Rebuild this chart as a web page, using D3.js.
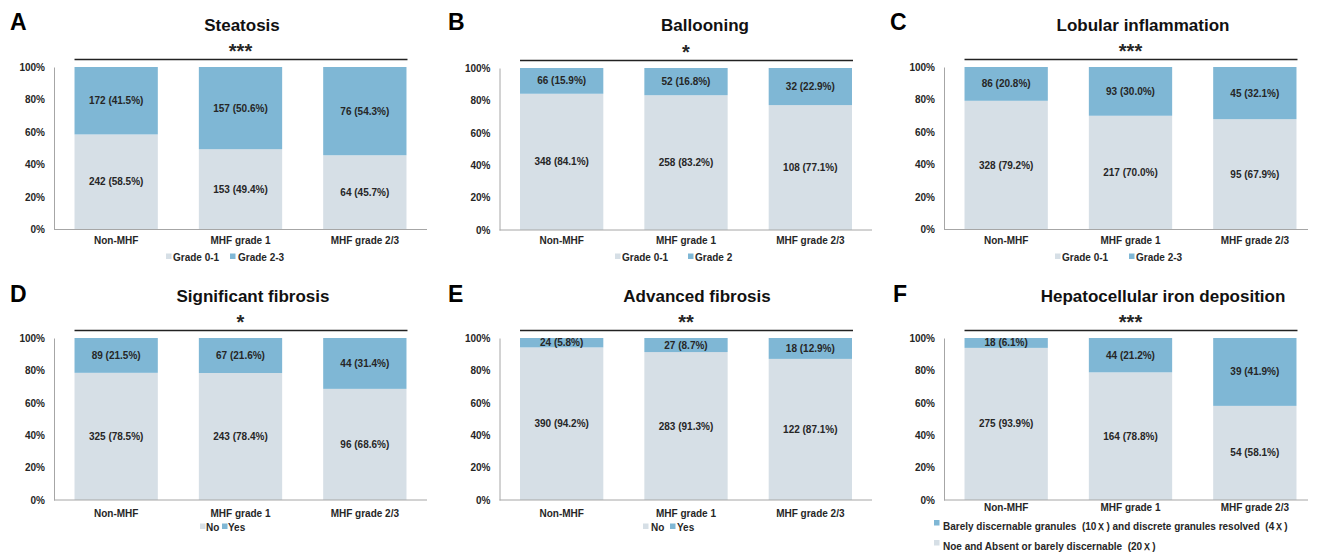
<!DOCTYPE html>
<html><head><meta charset="utf-8">
<script src="https://cdn.jsdelivr.net/npm/d3@7"></script>
<style>
html,body{margin:0;padding:0;background:#fff;}
svg{display:block;font-family:"Liberation Sans",Arial,sans-serif;}
</style></head>
<body>
<svg id="chart" width="1320" height="552"></svg>
<script>
// ---------- data ----------
const categories = ["Non-MHF", "MHF grade 1", "MHF grade 2/3"];
const yTicks = [0, 20, 40, 60, 80, 100];
const panelLetters = ["A", "B", "C", "D", "E", "F"];
const panelTitles = ["Steatosis", "Ballooning", "Lobular inflammation", "Significant fibrosis", "Advanced fibrosis", "Hepatocellular iron deposition"];
const significance = ["***", "*", "***", "*", "**", "***"];

const steatosisN = [[242, 153, 64], [172, 157, 76]];
const steatosisPct = [[58.5, 49.4, 45.7], [41.5, 50.6, 54.3]];
const steatosisLegend = ["Grade 0-1", "Grade 2-3"];

const ballooningN = [[348, 258, 108], [66, 52, 32]];
const ballooningPct = [[84.1, 83.2, 77.1], [15.9, 16.8, 22.9]];
const ballooningLegend = ["Grade 0-1", "Grade 2"];

const lobularN = [[328, 217, 95], [86, 93, 45]];
const lobularPct = [[79.2, 70.0, 67.9], [20.8, 30.0, 32.1]];
const lobularLegend = ["Grade 0-1", "Grade 2-3"];

const sigFibrosisN = [[325, 243, 96], [89, 67, 44]];
const sigFibrosisPct = [[78.5, 78.4, 68.6], [21.5, 21.6, 31.4]];
const sigFibrosisLegend = ["No", "Yes"];

const advFibrosisN = [[390, 283, 122], [24, 27, 18]];
const advFibrosisPct = [[94.2, 91.3, 87.1], [5.8, 8.7, 12.9]];
const advFibrosisLegend = ["No", "Yes"];

const ironN = [[275, 164, 54], [18, 44, 39]];
const ironPct = [[93.9, 78.8, 58.1], [6.1, 21.2, 41.9]];
const ironLegend = ["Noe and Absent or barely discernable  (20\uFF38)", "Barely discernable granules  (10\uFF38) and discrete granules resolved  (4\uFF38)"];

const panelN = [steatosisN, ballooningN, lobularN, sigFibrosisN, advFibrosisN, ironN];
const panelPct = [steatosisPct, ballooningPct, lobularPct, sigFibrosisPct, advFibrosisPct, ironPct];
const panelLegends = [steatosisLegend, ballooningLegend, lobularLegend, sigFibrosisLegend, advFibrosisLegend, ironLegend];

// ---------- layout ----------
const colors = ["#d6dfe6", "#7fb7d5"];
const layout = [
  {ax: 54,    end: 427,  y100: 67,  y0: 229.5, tx: 242,  ty: 31,    lx: 10,  ly: 30,  catY: 244, legY: 261, leg: [[166, 173], [230, 238]]},
  {ax: 499.5, end: 872,  y100: 68,  y0: 230,   tx: 705,  ty: 31,    lx: 448, ly: 30,  catY: 244, legY: 261, leg: [[615, 622], [688, 695]]},
  {ax: 944,   end: 1308, y100: 67,  y0: 229.5, tx: 1143, ty: 31,    lx: 890, ly: 30,  catY: 244, legY: 261, leg: [[1055, 1062], [1129, 1136]]},
  {ax: 54,    end: 427,  y100: 338, y0: 500,   tx: 253,  ty: 302,   lx: 10,  ly: 302, catY: 517, legY: 531, leg: [[200, 206], [222, 228]]},
  {ax: 499.5, end: 872,  y100: 338, y0: 500,   tx: 697,  ty: 302,   lx: 448, ly: 302, catY: 517, legY: 531, leg: [[643, 651], [670, 677]]},
  {ax: 944,   end: 1308, y100: 338, y0: 500,   tx: 1163, ty: 302,   lx: 893, ly: 302, catY: 511, legY: null, leg: null}
];

const svg = d3.select("#chart");
const txt = "#262626";

panelLetters.forEach((letter, p) => {
  const L = layout[p];
  const g = svg.append("g");
  const x = d3.scaleBand().domain(categories).range([L.ax, L.ax + 373]).paddingInner(0.33).paddingOuter(0.165);
  const y = d3.scaleLinear().domain([0, 100]).range([L.y0, L.y100]);

  const rows = categories.map((c, i) => ({cat: c, i: i, s0: panelPct[p][0][i], s1: panelPct[p][1][i]}));
  const stacked = d3.stack().keys(["s0", "s1"])(rows);

  stacked.forEach((layer, k) => {
    g.append("g").selectAll("rect").data(layer).join("rect")
      .attr("x", d => x(d.data.cat))
      .attr("width", x.bandwidth())
      .attr("y", d => y(d[1]))
      .attr("height", d => y(d[0]) - y(d[1]))
      .attr("fill", colors[k]);
    g.append("g").selectAll("text").data(layer).join("text")
      .attr("x", d => x(d.data.cat) + x.bandwidth() / 2)
      .attr("y", d => y((d[0] + d[1]) / 2))
      .attr("dy", "0.35em")
      .attr("text-anchor", "middle")
      .attr("font-size", 10).attr("font-weight", "bold").attr("fill", txt)
      .text(d => `${panelN[p][k][d.data.i]} (${panelPct[p][k][d.data.i].toFixed(1)}%)`);
  });

  // y axis
  const yAxis = d3.axisLeft(y).tickValues(yTicks).tickSize(0).tickPadding(9).tickFormat(d => d + "%");
  const ya = g.append("g").attr("transform", `translate(${L.ax},0)`).call(yAxis);
  ya.select(".domain").attr("stroke", "#a6a6a6");
  ya.selectAll("text").attr("font-size", 10).attr("font-weight", "bold").attr("fill", txt)
    .attr("font-family", "Liberation Sans, Arial, sans-serif");

  // x axis
  const xAxis = d3.axisBottom(x).tickSize(0).tickPadding(0);
  const xa = g.append("g").attr("transform", `translate(0,${L.y0})`).call(xAxis);
  xa.select(".domain").remove();
  xa.selectAll("text").attr("font-size", 10).attr("font-weight", "bold").attr("fill", txt)
    .attr("font-family", "Liberation Sans, Arial, sans-serif")
    .attr("dy", null).attr("y", L.catY - L.y0);
  g.append("line").attr("x1", L.ax).attr("x2", L.end).attr("y1", L.y0).attr("y2", L.y0)
    .attr("stroke", "#a6a6a6").attr("stroke-width", 1);

  // significance bar
  const bx0 = x(categories[0]), bx1 = x(categories[2]) + x.bandwidth();
  const sy = L.y100 - 7.5;
  g.append("line").attr("x1", bx0).attr("x2", bx1 + 1).attr("y1", sy).attr("y2", sy)
    .attr("stroke", "#222").attr("stroke-width", 1.3);
  g.append("text").attr("x", (bx0 + bx1) / 2).attr("y", sy - 2)
    .attr("text-anchor", "middle").attr("font-size", 20).attr("font-weight", "bold").attr("fill", txt)
    .text(significance[p]);

  // title & letter
  g.append("text").attr("x", L.tx).attr("y", L.ty).attr("text-anchor", "middle")
    .attr("font-size", 17).attr("font-weight", "bold").attr("fill", "#111").text(panelTitles[p]);
  g.append("text").attr("x", L.lx).attr("y", L.ly)
    .attr("font-size", 23).attr("font-weight", "bold").attr("fill", "#000").text(letter);

  // legend
  const legend = panelLegends[p];
  if (L.leg) {
    legend.forEach((name, k) => {
      g.append("rect").attr("x", L.leg[k][0]).attr("y", L.legY - 7.5).attr("width", 5.5).attr("height", 5.5).attr("fill", colors[k]);
      g.append("text").attr("x", L.leg[k][1]).attr("y", L.legY).attr("font-size", 10).attr("font-weight", "bold")
        .attr("fill", txt).text(name);
    });
  } else {
    const rowsY = [550, 530];
    [1, 0].forEach(k => {
      g.append("rect").attr("x", 934).attr("y", rowsY[k] - 10).attr("width", 5.5).attr("height", 5.5).attr("fill", colors[k]);
      g.append("text").attr("x", 943).attr("y", rowsY[k]).attr("font-size", 10).attr("font-weight", "bold")
        .attr("fill", txt).style("white-space", "pre").text(legend[k]);
    });
  }
});
</script>
</body></html>
